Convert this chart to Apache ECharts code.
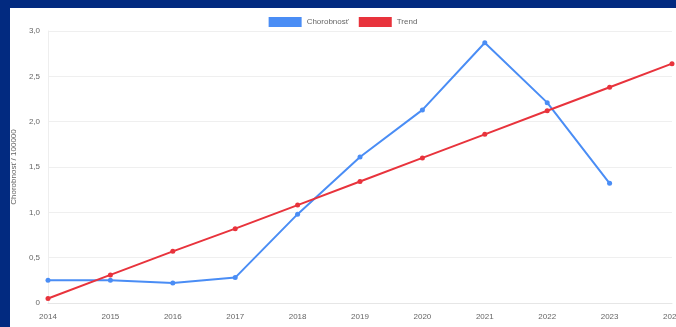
<!DOCTYPE html>
<html>
<head>
<meta charset="UTF-8">
<title>Chorobnosť</title>
<script src="https://cdn.jsdelivr.net/npm/echarts@6/dist/echarts.min.js"></script>
<style>
    body { margin: 0; background: #022a80; }
    #main {
        position: absolute;
        left: 10px;
        top: 8px;
        width: 666px;
        height: 319px;
        background: #ffffff;
    }
</style>
</head>
<body>
<div id="main"></div>
<script type="text/javascript">
    var years = ['2014', '2015', '2016', '2017', '2018', '2019', '2020', '2021', '2022', '2023', '2024'];
    var chorobnost = [0.25, 0.25, 0.22, 0.28, 0.98, 1.61, 2.13, 2.87, 2.21, 1.32, null];
    var trend = [0.05, 0.31, 0.57, 0.82, 1.08, 1.34, 1.60, 1.86, 2.12, 2.38, 2.64];

    var myChart = echarts.init(document.getElementById('main'));

    var option = {
        animation: false,
        legend: {
            top: 4,
            left: 'center',
            itemWidth: 33,
            itemHeight: 10,
            itemGap: 10,
            icon: 'rect',
            textStyle: { fontSize: 8, color: '#666', fontFamily: 'Liberation Sans' },
            data: ['Chorobnosť', 'Trend']
        },
        grid: { left: 38, right: 4, top: 23, bottom: 24, containLabel: false, outerBoundsMode: 'none' },
        xAxis: {
            type: 'category',
            data: years,
            boundaryGap: false,
            axisLine: { lineStyle: { color: '#e6e6e6' } },
            axisTick: { show: false },
            axisLabel: { fontSize: 8, color: '#666', margin: 10, fontFamily: 'Liberation Sans' },
            splitLine: { show: false }
        },
        yAxis: {
            type: 'value',
            min: 0,
            max: 3,
            interval: 0.5,
            name: 'Chorobnosť / 100000',
            nameLocation: 'middle',
            nameGap: 26,
            nameTextStyle: { fontSize: 8, color: '#666', fontFamily: 'Liberation Sans' },
            axisLine: { show: true, lineStyle: { color: '#eeeeee' } },
            axisTick: { show: false },
            axisLabel: {
                fontSize: 8, color: '#666', margin: 8, fontFamily: 'Liberation Sans',
                formatter: function (v) { return v === 0 ? '0' : v.toFixed(1).replace('.', ','); }
            },
            splitLine: { lineStyle: { color: '#efefef' } }
        },
        series: [
            {
                name: 'Chorobnosť',
                type: 'line',
                data: chorobnost,
                symbol: 'circle',
                symbolSize: 5,
                lineStyle: { width: 2, color: '#4a8df5' },
                itemStyle: { color: '#4a8df5' }
            },
            {
                name: 'Trend',
                type: 'line',
                data: trend,
                symbol: 'circle',
                symbolSize: 5,
                lineStyle: { width: 2, color: '#e8333c' },
                itemStyle: { color: '#e8333c' }
            }
        ]
    };

    myChart.setOption(option);
</script>
</body>
</html>
